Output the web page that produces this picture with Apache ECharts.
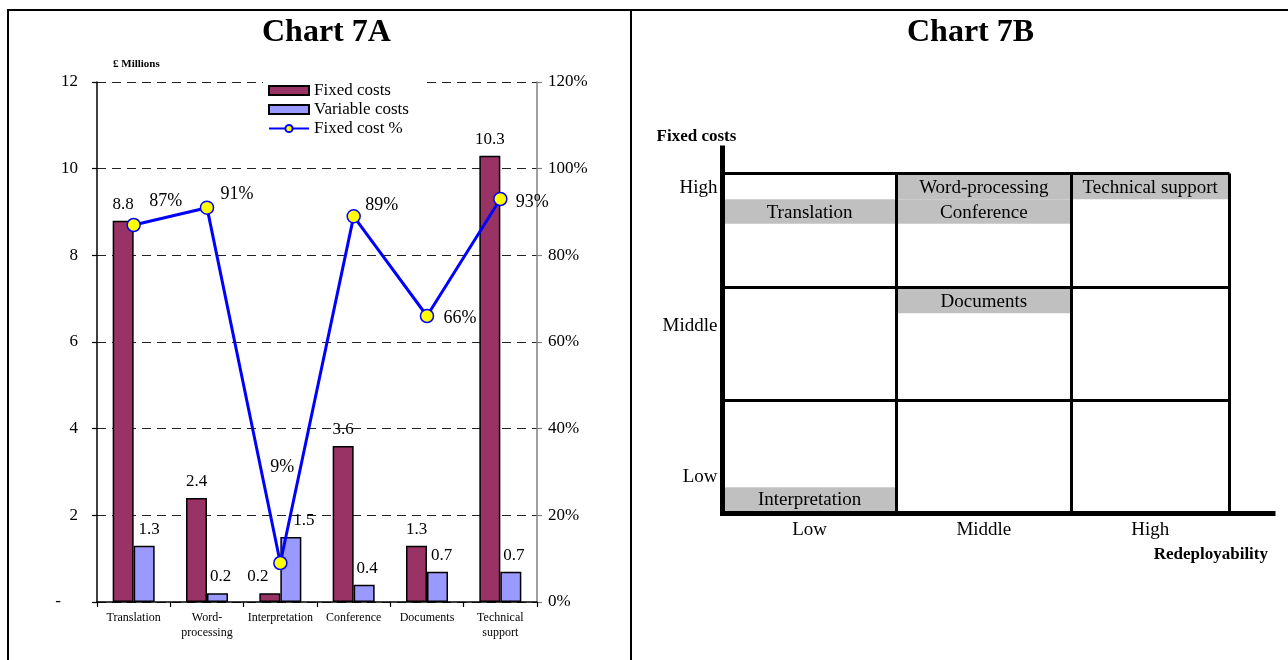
<!DOCTYPE html>
<html>
<head>
<meta charset="utf-8">
<script src="https://cdn.jsdelivr.net/npm/echarts@6/dist/echarts.min.js"></script>
<style>
  html, body { margin: 0; padding: 0; background: #fff; }
  #chart { width: 1288px; height: 660px; }
</style>
</head>
<body>
<div id="chart"></div>
<script>
// ---- Chart 7A: costs by activity (£ millions) ----
const categories = ['Translation', 'Word-\nprocessing', 'Interpretation', 'Conference', 'Documents', 'Technical\nsupport'];
const fixedCosts = [8.8, 2.4, 0.2, 3.6, 1.3, 10.3];
const variableCosts = [1.3, 0.2, 1.5, 0.4, 0.7, 0.7];
const fixedCostPct = [87, 91, 9, 89, 66, 93];

// ---- Chart 7B: fixed costs vs redeployability ----
const levels = ['Low', 'Middle', 'High'];
const activities = ['Translation', 'Word-processing', 'Conference', 'Technical support', 'Documents', 'Interpretation'];
const redeployability = [0, 1, 1, 2, 1, 0];                 // index into levels
const fixedCostLevel = [2.664, 2.88, 2.664, 2.88, 1.875, 0.124]; // position on the 0–3 fixed-cost scale

// label placement tweaks (pixels)
const pctLabelOffset = [[32, -24], [30, -13], [2, -96], [28, -11], [33, 2], [32, 3]];
const fixedLabelShift = [0, 0, -12, 0, 0, 0];
const variableLabelShift = [5, 3, 13, 3, 4, 3];

const FONT = 'Liberation Serif';
const colLast = 2.91; // right edge of the matrix on the redeployability scale

const chart = echarts.init(document.getElementById('chart'), null, { renderer: 'canvas' });

const option = {
  animation: false,
  backgroundColor: '#fff',
  textStyle: { fontFamily: FONT, color: '#000' },
  title: [
    { text: 'Chart 7A', left: 262, top: 17, padding: 0,
      textStyle: { fontFamily: FONT, fontSize: 32, fontWeight: 'bold', color: '#000' } },
    { text: 'Chart 7B', left: 907, top: 17, padding: 0,
      textStyle: { fontFamily: FONT, fontSize: 32, fontWeight: 'bold', color: '#000' } }
  ],
  legend: {
    orient: 'vertical',
    left: 263, top: 78,
    itemWidth: 40, itemHeight: 9, itemGap: 2,
    backgroundColor: '#fff',
    padding: [4, 14, 3, 5],
    textStyle: { fontFamily: FONT, fontSize: 17, color: '#000' },
    data: [
      { name: 'Fixed costs', icon: 'rect' },
      { name: 'Variable costs', icon: 'rect' },
      { name: 'Fixed cost %' }
    ]
  },
  grid: [
    { left: 97, right: 751, top: 82, bottom: 58 },          // bar chart
    { left: 722.5, right: 58.5, top: 173.5, bottom: 146.5 }, // matrix cells
    { left: 722.5, right: 15, top: 148, bottom: 146.5 }      // matrix axes
  ],
  xAxis: [
    {
      type: 'category', gridIndex: 0, data: categories,
      axisLine: { lineStyle: { color: '#000', width: 1.5 } },
      axisTick: { show: true, length: 5, lineStyle: { color: '#000', width: 1.2 } },
      axisLabel: { interval: 0, fontFamily: FONT, fontSize: 12, lineHeight: 15, margin: 8, color: '#000' }
    },
    {
      type: 'value', gridIndex: 1, min: 0, max: colLast, interval: 1, z: 5,
      axisLine: { show: false }, axisTick: { show: false },
      splitLine: { show: true, lineStyle: { color: '#000', width: 3 } },
      axisLabel: {
        customValues: [0.5, 1.5, (2 + colLast) / 2],
        formatter: v => levels[Math.floor(v)],
        fontFamily: FONT, fontSize: 19, color: '#000', margin: 7
      }
    },
    {
      type: 'value', gridIndex: 2, min: 0, max: 1, z: 6,
      axisLine: { show: true, onZero: false, lineStyle: { color: '#000', width: 5, cap: 'square' } },
      axisTick: { show: false }, axisLabel: { show: false }, splitLine: { show: false },
      name: 'Redeployability', nameLocation: 'end', nameGap: -5,
      nameTextStyle: { fontFamily: FONT, fontSize: 17, fontWeight: 'bold', color: '#000',
        align: 'right', verticalAlign: 'top', padding: [33, 0, 0, 0] }
    }
  ],
  yAxis: [
    {
      type: 'value', gridIndex: 0, min: 0, max: 12, interval: 2,
      axisLine: { show: true, lineStyle: { color: '#000', width: 1.5 } },
      axisTick: { show: true, length: 5, lineStyle: { color: '#000', width: 1.2 } },
      splitLine: { show: true, lineStyle: { color: '#222', width: 1.2, type: [9, 6] } },
      axisLabel: { formatter: v => (v === 0 ? '-    ' : String(v)), fontFamily: FONT, fontSize: 17, color: '#000', margin: 19 },
      name: '£ Millions', nameLocation: 'end', nameGap: 12,
      nameTextStyle: { fontFamily: FONT, fontSize: 11, fontWeight: 'bold', color: '#000', align: 'left', padding: [0, 0, 0, 16] }
    },
    {
      type: 'value', gridIndex: 0, min: 0, max: 120, interval: 20, position: 'right',
      axisLine: { show: true, lineStyle: { color: '#808080', width: 1.5 } },
      axisTick: { show: true, length: 5, lineStyle: { color: '#808080', width: 1.2 } },
      splitLine: { show: false },
      axisLabel: { formatter: '{value}%', fontFamily: FONT, fontSize: 17, color: '#000', margin: 11 }
    },
    {
      type: 'value', gridIndex: 1, min: 0, max: 3, interval: 1, z: 5,
      axisLine: { show: false }, axisTick: { show: false },
      splitLine: { show: true, lineStyle: { color: '#000', width: 3 } },
      axisLabel: {
        customValues: [0.322, 1.654, 2.872],
        formatter: v => levels[Math.floor(v)],
        fontFamily: FONT, fontSize: 19, color: '#000', margin: 5
      }
    },
    {
      type: 'value', gridIndex: 2, min: 0, max: 1, z: 6,
      axisLine: { show: true, onZero: false, lineStyle: { color: '#000', width: 5, cap: 'square' } },
      axisTick: { show: false }, axisLabel: { show: false }, splitLine: { show: false },
      name: 'Fixed costs', nameLocation: 'end', nameGap: 3,
      nameTextStyle: { fontFamily: FONT, fontSize: 17, fontWeight: 'bold', color: '#000',
        align: 'center', padding: [0, 52, 0, 0] }
    }
  ],
  series: [
    {
      name: 'Fixed costs', type: 'bar', xAxisIndex: 0, yAxisIndex: 0,
      barWidth: 21, barGap: '0%',
      itemStyle: { color: '#993366', borderColor: '#000', borderWidth: 1.5 },
      label: { show: true, position: 'top', distance: 8, fontFamily: FONT, fontSize: 17, color: '#000' },
      data: fixedCosts.map((v, i) => ({ value: v, label: { offset: [fixedLabelShift[i], 0] } }))
    },
    {
      name: 'Variable costs', type: 'bar', xAxisIndex: 0, yAxisIndex: 0,
      barWidth: 21, barGap: '0%',
      itemStyle: { color: '#9999ff', borderColor: '#000', borderWidth: 1.5 },
      label: { show: true, position: 'top', distance: 8, fontFamily: FONT, fontSize: 17, color: '#000' },
      data: variableCosts.map((v, i) => ({ value: v, label: { offset: [variableLabelShift[i], 0] } }))
    },
    {
      name: 'Fixed cost %', type: 'line', xAxisIndex: 0, yAxisIndex: 1, z: 4,
      symbol: 'circle', symbolSize: 13,
      lineStyle: { color: '#0000ff', width: 3 },
      itemStyle: { color: '#ffff00', borderColor: '#0000ff', borderWidth: 1.5 },
      label: { show: true, position: 'inside', formatter: '{c}%', fontFamily: FONT, fontSize: 18, color: '#000' },
      data: fixedCostPct.map((v, i) => ({ value: v, label: { offset: pctLabelOffset[i] } }))
    },
    {
      name: 'Activities', type: 'custom', xAxisIndex: 1, yAxisIndex: 2, z: 2,
      data: activities.map((n, i) => [redeployability[i], fixedCostLevel[i]]),
      renderItem: (params, api) => {
        const cs = params.coordSys;
        const col = api.value(0), lvl = api.value(1);
        const left = api.coord([col, lvl]);
        const xL = left[0];
        const xR = Math.min(api.coord([col + 1, lvl])[0], cs.x + cs.width);
        const yc = left[1];
        const h = 24.5;
        return {
          type: 'group',
          children: [
            { type: 'rect', shape: { x: xL, y: yc - h / 2, width: xR - xL, height: h }, style: { fill: '#c0c0c0' } },
            { type: 'text', style: { text: activities[params.dataIndex], x: (xL + xR) / 2, y: yc + 1,
                align: 'center', verticalAlign: 'middle', font: '19px "' + FONT + '"', fill: '#000' } }
          ]
        };
      }
    }
  ],
  graphic: [
    { type: 'rect', silent: true, z: 100,
      shape: { x: 8, y: 10, width: 1300, height: 700 },
      style: { fill: 'transparent', stroke: '#000', lineWidth: 2 } },
    { type: 'line', silent: true, z: 100,
      shape: { x1: 631, y1: 10, x2: 631, y2: 700 },
      style: { stroke: '#000', lineWidth: 2 } }
  ]
};

chart.setOption(option);
</script>
</body>
</html>
